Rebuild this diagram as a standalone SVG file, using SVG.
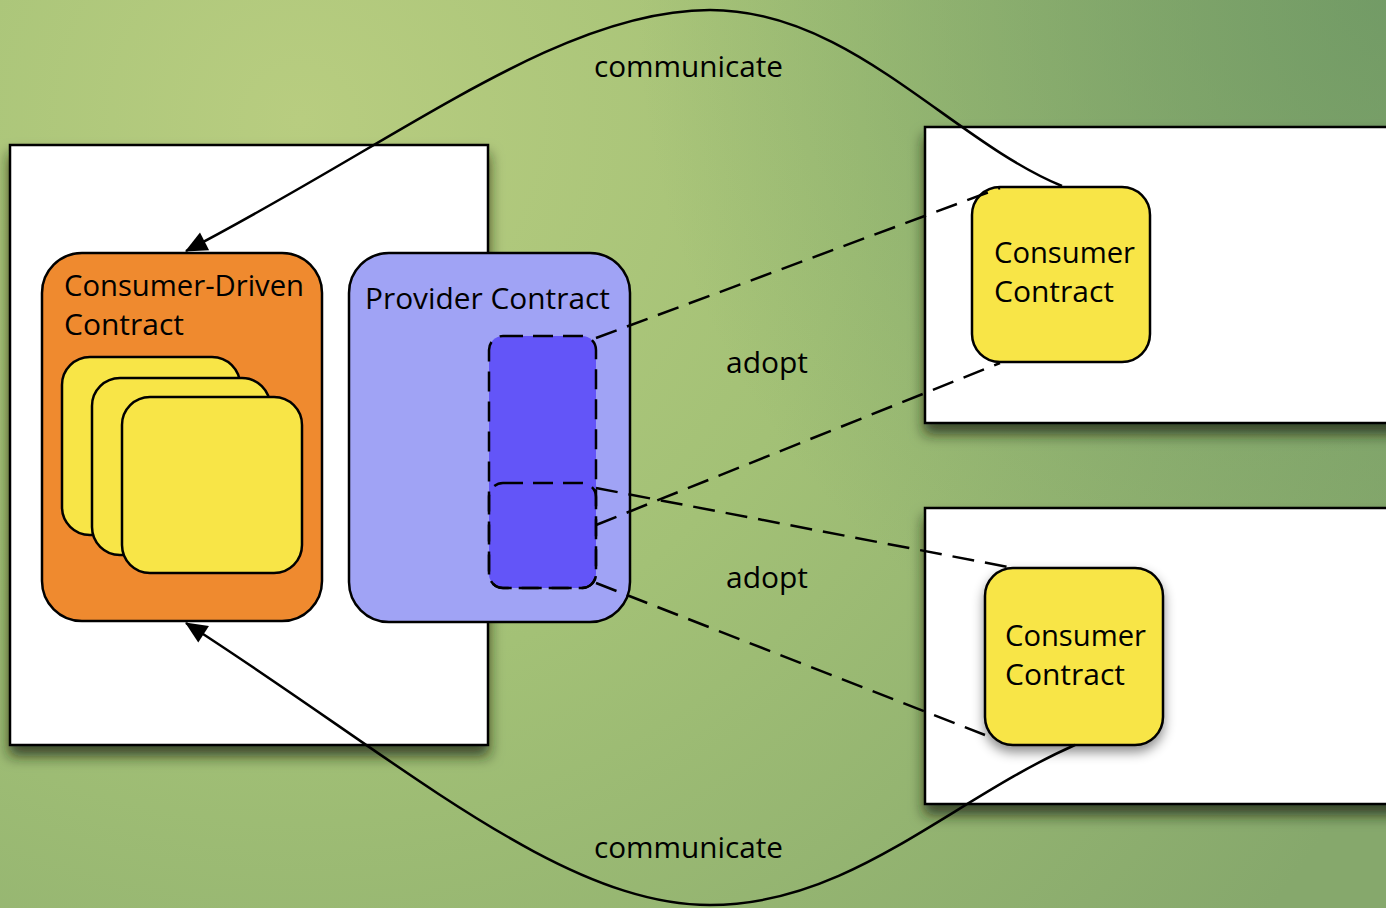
<svg xmlns="http://www.w3.org/2000/svg" width="1386" height="908" viewBox="0 0 1386 908">
  <defs>
    <radialGradient id="bg" cx="300" cy="120" r="1250" gradientUnits="userSpaceOnUse">
      <stop offset="0" stop-color="#b8cd80"/>
      <stop offset="0.45" stop-color="#a3c176"/>
      <stop offset="1" stop-color="#86a86c"/>
    </radialGradient>
    <radialGradient id="tr" cx="1386" cy="0" r="750" gradientUnits="userSpaceOnUse">
      <stop offset="0" stop-color="#6a9563" stop-opacity="0.75"/>
      <stop offset="1" stop-color="#6a9563" stop-opacity="0"/>
    </radialGradient>
    <filter id="shadow" x="-10%" y="-10%" width="130%" height="130%">
      <feDropShadow dx="0" dy="10" stdDeviation="7" flood-color="#1a2410" flood-opacity="0.75"/>
    </filter>
    <filter id="cardShadow" x="-20%" y="-20%" width="140%" height="140%">
      <feDropShadow dx="0" dy="6" stdDeviation="6" flood-color="#000" flood-opacity="0.45"/>
    </filter>
    <marker id="arrowBig" viewBox="0 0 20 20" refX="19" refY="10" markerWidth="24" markerHeight="22" markerUnits="userSpaceOnUse" orient="auto">
      <path d="M0,1 L20,10 L0,19 z" fill="#000"/>
    </marker>
  </defs>
  <style>
    .box { fill: #ffffff; stroke: #000; stroke-width: 2.5; }
    .card { fill: #f8e547; stroke: #000; stroke-width: 2.5; }
    .txt { font-family: "Open Sans", "Noto Sans", sans-serif; font-size: 29px; fill: #000; }
    .lbl { font-family: "Open Sans", "Noto Sans", sans-serif; font-size: 30px; fill: #000; }
    .dash { fill: none; stroke: #000; stroke-width: 2.5; stroke-dasharray: 22 11; }
    .curve { fill: none; stroke: #000; stroke-width: 2.5; }
  </style>

  <rect x="0" y="0" width="1386" height="908" fill="url(#bg)"/>
  <rect x="0" y="0" width="1386" height="908" fill="url(#tr)"/>

  <g id="provider-service">
    <rect class="box" x="10" y="145" width="478" height="600" filter="url(#shadow)"/>
  </g>

  <g id="consumer-service-1">
    <rect class="box" x="925" y="127" width="480" height="296" filter="url(#shadow)"/>
  </g>

  <g id="consumer-service-2">
    <rect class="box" x="925" y="508" width="480" height="296" filter="url(#shadow)"/>
  </g>

  <g id="consumer-driven-contract">
    <rect x="42" y="253" width="280" height="368" rx="40" fill="#ef8a2f" stroke="#000" stroke-width="2.5"/>
    <text class="txt" x="64" y="296" textLength="240" lengthAdjust="spacingAndGlyphs">Consumer-Driven</text>
    <text class="txt" x="64" y="335" textLength="120" lengthAdjust="spacingAndGlyphs">Contract</text>
    <rect class="card" x="62" y="357" width="178" height="178" rx="28"/>
    <rect class="card" x="92" y="378" width="178" height="177" rx="28"/>
    <rect class="card" x="122" y="397" width="180" height="176" rx="28"/>
  </g>

  <g id="provider-contract">
    <rect x="349" y="253" width="281" height="369" rx="40" fill="#a0a3f5" stroke="#000" stroke-width="2.5"/>
    <text class="txt" x="365" y="309" textLength="245" lengthAdjust="spacingAndGlyphs">Provider Contract</text>
    <rect x="489" y="336" width="107" height="252" rx="14" fill="#6355f8" stroke="#000" stroke-width="2.5" stroke-dasharray="20 10"/>
    <rect x="489" y="483" width="107" height="105" rx="14" fill="none" stroke="#000" stroke-width="2.5" stroke-dasharray="20 10"/>
  </g>

  <g id="consumer-contract-1">
    <rect class="card" x="972" y="187" width="178" height="175" rx="28"/>
    <text class="txt" x="994" y="263" textLength="141" lengthAdjust="spacingAndGlyphs">Consumer</text>
    <text class="txt" x="994" y="302" textLength="120" lengthAdjust="spacingAndGlyphs">Contract</text>
  </g>

  <g id="consumer-contract-2">
    <rect class="card" x="985" y="568" width="178" height="177" rx="28" filter="url(#cardShadow)"/>
    <text class="txt" x="1005" y="646" textLength="141" lengthAdjust="spacingAndGlyphs">Consumer</text>
    <text class="txt" x="1005" y="685" textLength="120" lengthAdjust="spacingAndGlyphs">Contract</text>
  </g>

  <g id="connectors">
    <line class="dash" x1="596" y1="338" x2="1000" y2="188"/>
    <line class="dash" x1="596" y1="525" x2="1000" y2="363"/>
    <line class="dash" x1="596" y1="488" x2="1008" y2="567"/>
    <line class="dash" x1="596" y1="583" x2="985" y2="735"/>
    <path class="curve" d="M1062,186 C950,140 850,10 710,10 C560,10 400,140 186,251" marker-end="url(#arrowBig)"/>
    <path class="curve" d="M1075,745 C950,800 850,905 710,905 C560,905 400,760 186,623" marker-end="url(#arrowBig)"/>
    <text class="lbl" x="594" y="77" textLength="189" lengthAdjust="spacingAndGlyphs">communicate</text>
    <text class="lbl" x="594" y="858" textLength="189" lengthAdjust="spacingAndGlyphs">communicate</text>
    <text class="lbl" x="726" y="373" textLength="82" lengthAdjust="spacingAndGlyphs">adopt</text>
    <text class="lbl" x="726" y="588" textLength="82" lengthAdjust="spacingAndGlyphs">adopt</text>
  </g>
</svg>
